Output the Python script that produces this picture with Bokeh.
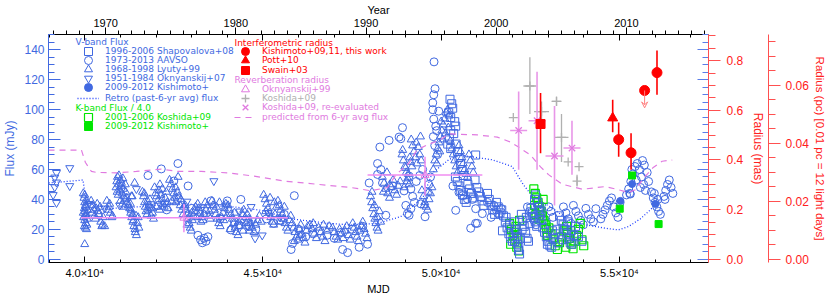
from bokeh.plotting import figure
from bokeh.models import (Range1d, LinearAxis, SingleIntervalTicker, FixedTicker, Legend, LegendItem,
                          ColumnDataSource, Arrow, VeeHead, NumeralTickFormatter, CustomJSTickFormatter, Label)
from bokeh.embed import file_html
from bokeh.resources import INLINE

BLUE = "#4169e1"
GREEN = "#00e600"
RED = "#ff0000"
PINK = "#e07ae0"
GRAY = "#b0b0b0"
FONT = "Liberation Sans"
LFONT = "DejaVu Sans"

# ---------------- data (MJD, flux in mJy) ----------------
shapovalova = [
    (50248, 107), (50324, 101), (50212, 98), (50268, 94.8), (50408, 89), (50268, 86), (50352, 84), (50184, 77),
    (50268, 74), (50296, 104), (50380, 92), (50230, 81),
    (50420, 77), (50460, 72), (50500, 68), (50540, 64), (50580, 60), (50620, 56), (50968, 69.7),
    (50400, 55), (50450, 52), (50500, 49), (50550, 46), (50600, 43), (50650, 40), (50700, 38), (50750, 50),
    (50800, 47), (50850, 44), (50900, 41), (50950, 53), (51000, 48), (51050, 45), (51100, 42), (51150, 39), (51200, 36),
    (51300, 44), (51350, 40), (51400, 36), (51450, 33), (51500, 30), (51550, 38), (51600, 35), (51650, 31),
    (51700, 33), (51750, 29), (51800, 25), (51850, 21), (51900, 17), (51950, 14), (52000, 12), (51720, 19),
    (51820, 28), (51920, 23),
    (52050, 25), (52080, 20), (52110, 15), (52140, 10), (52170, 6), (52200, 3.5), (52060, 12), (52120, 18),
    (52180, 8), (52220, 14),
    (52250, 30), (52290, 26), (52330, 22), (52370, 18), (52410, 14), (52450, 12), (52270, 20), (52390, 28), (52490, 24),
    (52520, 34), (52560, 31), (52600, 28), (52640, 25), (52680, 22), (52720, 33), (52760, 29), (52800, 26),
    (52620, 40), (52650, 43), (52700, 38), (52750, 35), (52800, 32),
    (52850, 21), (52900, 18), (52950, 15), (53000, 12), (53050, 9), (53100, 8), (53150, 14), (53200, 17),
    (53250, 20), (52980, 10), (53120, 19), (53280, 11),
    (53320, 29), (53370, 26), (53420, 23), (53470, 20), (53520, 17), (53570, 14), (53620, 11), (53670, 10),
    (53720, 16), (53770, 22), (53400, 13), (53550, 25), (53650, 19), (53850, 15), (53950, 12),
]

aavso = [
    (41775, 56), (42148, 60.4), (42050, 36), (42300, 33), (42615, 64), (42500, 52.3), (42900, 49), (42600, 40),
    (43000, 34), (43176, 16), (43250, 13), (43300, 11), (43350, 14), (43400, 12), (43456, 15), (43540, 39),
    (44000, 39), (44380, 40), (43800, 27), (44100, 19.6), (44200, 25), (44320, 23), (44600, 22), (44800, 20),
    (45100, 27), (45300, 24), (45500, 26), (45600, 30), (45790, 6.5), (45830, 10.5), (45880, 42.5), (46000, 20),
    (46200, 15), (46400, 17), (46600, 19), (46800, 16), (47000, 14), (47235, 6.5), (47375, 4.4), (47700, 8),
    (47935, 10), (47200, 18), (47500, 20), (47800, 22),
    (47980, 51), (48215, 56.7), (48310, 60), (48215, 64), (48280, 75), (48355, 51), (48540, 79.5), (48868, 80.6),
    (48915, 88), (48820, 81.7), (48635, 49), (48448, 29.4),
    (49100, 55.6), (49008, 36), (48960, 45.7), (49100, 29.4), (49055, 30.5), (49150, 33.8), (49548, 28.4),
    (49150, 47), (49200, 42), (49250, 38), (49430, 37), (49300, 52), (49400, 56), (49480, 60), (49650, 50), (49700, 55),
    (49800, 132), (49828, 114), (49792, 110), (49764, 104.6), (49764, 100), (49932, 99), (49792, 93.7),
    (49848, 89), (49876, 86), (49780, 82), (49820, 76), (49900, 70),
    (50330, 49), (50600, 42.5), (50408, 32.7), (50500, 44.7), (50735, 40.3), (50828, 20.7), (50875, 40),
    (50968, 33.8), (50968, 24), (51155, 30.5), (51015, 24), (51480, 36), (51550, 33), (51620, 30), (51680, 34),
    (51300, 38), (51400, 28),
    (52420, 35), (52480, 32), (52540, 29), (52600, 26), (52660, 23), (52720, 36), (52780, 33), (52840, 30),
    (52900, 27), (52960, 24), (53020, 35), (53080, 32), (53140, 28),
    (53430, 35), (53500, 31), (53570, 27), (53640, 24), (53710, 36), (53780, 32), (53850, 29), (53920, 26),
    (53990, 23), (54060, 34), (54130, 30), (54200, 27), (54270, 25), (54340, 33.8),
    (54480, 27), (54540, 30), (54600, 33), (54660, 36), (54720, 39), (54780, 41), (54840, 35), (54900, 31),
    (54960, 28), (55020, 38),
    (55200, 43), (55260, 47), (55320, 52), (55380, 57), (55440, 62), (55500, 64), (55560, 60), (55620, 55),
    (55680, 50), (55730, 46), (55290, 44), (55350, 60), (55470, 53), (55590, 48), (55308, 43.6),
    (55650, 66), (55700, 63), (55780, 58), (55820, 52),
    (55900, 45), (55950, 41), (56000, 38), (56050, 35), (56100, 32), (56150, 30), (55980, 44), (56080, 40),
    (56250, 42), (56300, 46), (56350, 50), (56400, 53), (56450, 48), (56500, 44), (56280, 40),
]

lyuty = [
    (39960, 44), (39980, 41), (40000, 38), (40020, 36), (39990, 34), (40010, 32), (40040, 30), (39970, 28),
    (40000, 26), (40030, 24), (39990, 22), (40020, 21), (40050, 20), (40000, 43), (40060, 39), (40040, 35),
    (40070, 27), (40000, 10), (40080, 33), (40030, 29), (39960, 31), (40060, 23),
    (40180, 39), (40220, 36), (40250, 33), (40200, 31), (40280, 29), (40320, 34), (40350, 37), (40300, 27),
    (40400, 30), (40450, 25), (40480, 22), (40380, 32), (40520, 28), (40500, 23), (40430, 35), (40560, 22),
    (40620, 39), (40680, 35), (40720, 31), (40760, 28), (40700, 37), (40650, 33), (40780, 29),
    (40880, 48), (40900, 52), (40920, 55), (40950, 50), (40980, 46), (41000, 53), (41020, 49), (41050, 44),
    (41080, 47), (41100, 42), (41120, 40), (40940, 43), (41000, 39), (41060, 37), (41150, 45), (41180, 41),
    (41200, 38), (40960, 56), (41030, 51), (41110, 35), (41220, 36), (40910, 45), (41070, 54), (41140, 50),
    (41310, 42), (41400, 51),
    (41260, 34), (41290, 31), (41320, 28), (41350, 25), (41380, 22), (41410, 20), (41300, 33), (41340, 30),
    (41370, 26), (41420, 18), (41450, 16), (41480, 24), (41500, 28), (41330, 42), (41520, 21), (41280, 37), (41440, 29),
    (41620, 45), (41650, 42), (41680, 38), (41700, 35), (41720, 32), (41750, 30), (41780, 33), (41800, 36),
    (41830, 40), (41860, 29), (41900, 31), (41930, 27), (41670, 44), (41760, 39), (41880, 34),
    (41960, 48), (41990, 44), (42020, 42), (42050, 39), (42080, 46), (42110, 50), (42140, 43), (42170, 40),
    (42200, 37), (42230, 35), (42260, 41), (42290, 45), (42320, 38), (42010, 35), (42100, 33), (42180, 47), (42340, 34),
    (42380, 53), (42420, 50), (42460, 47), (42500, 44), (42530, 41), (42560, 38), (42600, 45), (42640, 42),
    (42680, 36), (42720, 33), (42760, 30), (42450, 39), (42550, 48), (42700, 40), (42620, 55), (42780, 35),
    (42820, 36), (42850, 33), (42880, 30), (42900, 27), (42930, 24), (42960, 21), (42990, 19), (43020, 26),
    (43050, 29), (43080, 32), (43110, 35), (42870, 23), (43000, 31), (43130, 28),
    (43170, 37), (43200, 34), (43240, 31), (43280, 28), (43320, 26), (43360, 30), (43400, 33), (43440, 36),
    (43480, 29), (43520, 27), (43260, 25), (43380, 38), (43500, 32),
    (43570, 39), (43600, 36), (43640, 33), (43680, 30), (43720, 27), (43760, 24), (43800, 22), (43840, 28),
    (43880, 31), (43920, 34), (43960, 37), (43700, 35), (43780, 38), (43900, 26), (43990, 29),
    (44020, 36), (44060, 33), (44100, 30), (44140, 27), (44180, 24), (44220, 21), (44260, 18), (44300, 16),
    (44340, 22), (44380, 26), (44420, 30), (44460, 33), (44500, 28), (44530, 24), (44080, 20), (44200, 31),
    (44320, 25), (44440, 19),
    (44560, 30), (44600, 27), (44650, 24), (44700, 21), (44750, 18), (44800, 23), (44850, 26), (44900, 29),
    (44950, 25), (44620, 19),
    (45020, 43), (45060, 40), (45100, 37), (45140, 34), (45180, 31), (45220, 28), (45260, 25), (45300, 23),
    (45340, 30), (45380, 35), (45080, 32), (45200, 41), (45320, 38),
    (45420, 39), (45460, 36), (45500, 33), (45540, 30), (45580, 27), (45620, 24), (45660, 21), (45700, 19),
    (45740, 26), (45780, 29), (45480, 25), (45600, 35),
    (45820, 24), (45860, 21), (45900, 18), (45940, 15), (45980, 13), (46020, 20), (46060, 23), (46100, 17),
    (46140, 14), (46180, 11), (46220, 19), (46260, 22), (45880, 12), (46040, 16),
    (46320, 23), (46380, 20), (46440, 17), (46500, 14), (46560, 21), (46620, 18), (46680, 15), (46740, 12),
    (46800, 19), (46860, 22), (46410, 24), (46700, 23),
    (46950, 21), (47000, 18), (47050, 15), (47100, 13), (47150, 20), (47200, 17), (47250, 14), (47300, 19),
    (47350, 22), (47400, 16), (47450, 13),
    (47520, 24), (47560, 21), (47600, 18), (47640, 15), (47680, 12), (47720, 19), (47760, 22), (47800, 25),
    (47840, 20), (47880, 17), (47920, 14),
    (48020, 42), (48050, 38), (48080, 34), (48110, 30), (48140, 27), (48170, 24), (48200, 21), (48230, 19),
    (48060, 45), (48130, 36), (48210, 28), (48270, 32), (48300, 25),
    (48350, 55), (48400, 51), (48450, 47), (48500, 44), (48550, 41), (48600, 48), (48650, 53), (48380, 45),
    (48480, 58), (48560, 50), (48700, 46), (48750, 43), (48800, 49), (48850, 52),
    (48900, 70), (48940, 66), (48980, 62), (49020, 58), (49060, 54), (49100, 50), (49140, 65), (48920, 73),
    (49000, 61), (49080, 57), (49120, 68), (48960, 48), (49040, 52),
    (49160, 80), (49200, 76), (49240, 72), (49280, 68), (49320, 64), (49360, 75), (49400, 70), (49440, 66),
    (49180, 62), (49300, 78), (49420, 82),
    (49460, 46), (49500, 42), (49540, 38), (49580, 35), (49620, 33), (49660, 40), (49700, 44), (49740, 48),
    (49520, 36), (49640, 45),
    (49820, 66), (49860, 70), (49900, 74), (49940, 78), (49980, 82), (50020, 86), (50060, 90), (50100, 94),
    (50140, 98), (50180, 100), (50220, 96), (49880, 64), (49960, 72), (50040, 80), (50120, 84), (50200, 88),
    (50000, 92), (49780, 60),
    (50260, 79), (50300, 74), (50340, 70), (50380, 66), (50420, 62), (50460, 58), (50500, 76), (50540, 72),
    (50580, 68), (50620, 64), (50660, 60), (50700, 57), (50740, 55), (50780, 70), (50820, 66), (50860, 62), (50900, 58),
]

oknyanskij07 = [
    (39208, 57.8), (39160, 54.7), (39208, 51.4), (39160, 48.2), (39115, 43), (39208, 37.7), (39580, 61), (39580, 49),
    (40120, 37), (40560, 34), (40980, 36), (41450, 47), (41800, 35), (42250, 37), (42867, 38.6), (43250, 33),
    (43623, 52.3), (43950, 36), (44350, 32), (44668, 35), (44580, 22), (44780, 14), (44980, 16), (44720, 26),
    (45150, 31), (45480, 28),
]

kish_v = [(55028, 39), (55355, 50.3), (56010, 37)]

koshida_k = [
    (51920, 24), (51970, 20), (52020, 16), (52070, 12), (52120, 8), (52170, 5.5), (51950, 10), (52050, 18),
    (52100, 22), (52150, 14), (52200, 26),
    (52600, 47), (52640, 44), (52680, 41), (52720, 38), (52760, 35), (52800, 32), (52840, 29), (52880, 26),
    (52920, 23), (52960, 20), (52980, 16), (52660, 30), (52740, 27), (52860, 40), (52620, 36),
    (53020, 21), (53080, 17), (53140, 13), (53200, 9), (53260, 6.5), (53320, 11), (53380, 15), (53440, 19), (53500, 8),
    (53550, 18), (53600, 14), (53650, 10), (53700, 7), (53750, 12), (53800, 16), (53850, 20), (53900, 24),
    (53950, 13), (54000, 9), (53520, 22),
]

kish_k = [(55010, 33.8), (55355, 56), (56100, 23.5)]

retro_mjd = [38990, 39500, 39950, 40050, 40188, 40748, 41500, 42000, 42708, 43500, 44192, 44948, 45788,
             46824, 47468, 48224, 48868, 49232, 49500, 49755, 50212, 50492, 51000, 51435, 51995, 52300,
             52500, 52732, 53208, 53572, 54048, 54608, 54972, 55252, 55588, 55868, 56148]
retro_flux = [51, 52, 53, 38, 37, 34, 35, 36, 37, 36, 35, 32.7, 27, 24, 23, 24, 28.5, 36, 42, 57.8, 66.5,
              69.7, 68, 66.5, 62, 50, 44, 40, 32.7, 26, 23, 20.7, 19.6, 21.8, 27, 33, 40]

# ---------------- radius data (mas) ----------------
pred_mjd = [38984, 39908, 40020, 40188, 40328, 40888, 41448, 42148, 42615, 43268, 44015, 44752, 45592,
            46535, 47468, 48028, 48495, 48728, 49092, 49316, 49596, 49960, 50212, 51015, 51575, 51948,
            52172, 52508, 52788, 53012, 53404, 53964, 54608, 55028, 55252, 55450, 55700, 55950, 56200, 56484]
pred_r = [0.44, 0.44, 0.39, 0.354, 0.35, 0.348, 0.354, 0.363, 0.354, 0.354, 0.348, 0.335, 0.315,
          0.302, 0.289, 0.276, 0.289, 0.34, 0.387, 0.44, 0.46, 0.48, 0.505, 0.501, 0.492, 0.472,
          0.452, 0.42, 0.372, 0.341, 0.302, 0.282, 0.293, 0.278, 0.269, 0.28, 0.33, 0.37, 0.395, 0.40]

okn99_mjd = [42783, 49548]
okn99_t0 = [39900, 47935]
okn99_t1 = [45700, 51155]
okn99_r = [0.167, 0.339]
okn99_lo = [0.109, 0.256]
okn99_hi = [0.223, 0.413]

kos_mjd = [52024, 52489, 52816, 53236, 53376, 53563, 53868, 53812]
kos_t0 = [52024, 52307, 52606, 53096, 53180, 53563, 53868, 53812]
kos_t1 = [52024, 52671, 53026, 53376, 53572, 53563, 53868, 53812]
kos_r = [0.571, 0.698, 0.595, 0.636, 0.491, 0.392, 0.373, 0.315]
kos_lo = [0.571, 0.585, 0.554, 0.617, 0.392, 0.392, 0.373, 0.293]
kos_hi = [0.571, 0.814, 0.636, 0.656, 0.585, 0.392, 0.373, 0.341]

kre_mjd = [52174, 52690, 53180, 53670]
kre_t0 = [51936, 52452, 52928, 53432]
kre_t1 = [52412, 52928, 53432, 53908]
kre_r = [0.519, 0.558, 0.416, 0.448]
kre_lo = [0.361, 0.361, 0.217, 0.341]
kre_hi = [0.676, 0.755, 0.617, 0.558]

kis_mjd = [54980, 55327, 56055]
kis_r = [0.482, 0.429, 0.752]
kis_lo = [0.413, 0.361, 0.663]
kis_hi = [0.551, 0.508, 0.841]
kis_lim_mjd = [55708]
kis_lim_r = [0.680]
kis_lim_to = [0.610]

pott_mjd = [54812]
pott_r = [0.569]
pott_lo = [0.512]
pott_hi = [0.643]

swain_mjd = [52788]
swain_r = [0.545]
swain_lo = [0.427]
swain_hi = [0.670]

MAS_TO_PC = 0.0855
MJD_TICKS = [40000, 45000, 50000, 55000]
MJD_LABELS = {40000: "4.0×10⁴", 45000: "4.5×10⁴", 50000: "5.0×10⁴", 55000: "5.5×10⁴"}

# ---------------- figure ----------------
W, H = 830, 297
ML, MR, MT, MB = 47, 122, 32, 32
FW, FH = W - ML - MR, H - MT - MB

X0, X1 = 38984, 57500
M0, M1 = -0.013, 0.9055

p = figure(width=W, height=H, x_range=Range1d(X0, X1), y_range=Range1d(-2.2, 150.3),
           output_backend="svg", toolbar_location=None, x_axis_location=None, y_axis_location=None,
           min_border_left=ML, min_border_right=MR, min_border_top=MT, min_border_bottom=MB)
p.outline_line_color = None
p.xgrid.visible = False
p.ygrid.visible = False
p.extra_x_ranges = {"year": Range1d(1970 + (X0 - 40587) / 365.25, 1970 + (X1 - 40587) / 365.25)}
p.extra_y_ranges = {"mas": Range1d(M0, M1), "pc": Range1d(M0 * MAS_TO_PC, M1 * MAS_TO_PC)}


def style_axis(ax, color, size="12px"):
    ax.axis_line_color = color
    ax.major_tick_line_color = color
    ax.minor_tick_line_color = color
    ax.major_label_text_color = color
    ax.major_label_text_font = FONT
    ax.major_label_text_font_size = size
    ax.major_label_text_line_height = 1.0
    ax.axis_label_text_color = color
    ax.axis_label_text_font = FONT
    ax.axis_label_text_font_style = "normal"
    ax.axis_label_text_font_size = size
    ax.axis_label_text_line_height = 1.0


ax_l = LinearAxis(ticker=SingleIntervalTicker(interval=20, num_minor_ticks=4), axis_label="Flux (mJy)")
style_axis(ax_l, BLUE)
ax_l.major_tick_in, ax_l.major_tick_out, ax_l.minor_tick_in, ax_l.minor_tick_out = 12, 0, 6, 0
ax_l.major_label_standoff = 4
ax_l.axis_label_standoff = 4
p.add_layout(ax_l, "left")

ax_b = LinearAxis(ticker=FixedTicker(ticks=MJD_TICKS, minor_ticks=list(range(39000, 58000, 1000))),
                  major_label_overrides=MJD_LABELS, axis_label="MJD")
style_axis(ax_b, "black", "11px")
ax_b.major_tick_in, ax_b.major_tick_out, ax_b.minor_tick_in, ax_b.minor_tick_out = 6, 0, 3, 0
ax_b.major_label_standoff = 4
ax_b.axis_label_standoff = 1
p.add_layout(ax_b, "below")

ax_tm = LinearAxis(ticker=FixedTicker(ticks=MJD_TICKS, minor_ticks=list(range(39000, 58000, 1000))),
                   formatter=CustomJSTickFormatter(code="return ''"))
style_axis(ax_tm, "black", "0px")
ax_tm.axis_line_color = None
ax_tm.major_tick_in, ax_tm.major_tick_out, ax_tm.minor_tick_in, ax_tm.minor_tick_out = 6, 0, 3, 0
ax_tm.major_label_standoff = 0
p.add_layout(ax_tm, "above")

ax_t = LinearAxis(x_range_name="year", ticker=SingleIntervalTicker(interval=10, num_minor_ticks=10),
                  axis_label="Year")
style_axis(ax_t, "black", "11px")
ax_t.major_tick_in, ax_t.major_tick_out, ax_t.minor_tick_in, ax_t.minor_tick_out = 0, 7, 0, 4
ax_t.major_label_standoff = 1
ax_t.axis_label_standoff = 0
p.add_layout(ax_t, "above")

ax_rm = LinearAxis(ticker=SingleIntervalTicker(interval=20, num_minor_ticks=4),
                   formatter=CustomJSTickFormatter(code="return ''"))
style_axis(ax_rm, "#5a7de8", "0px")
ax_rm.axis_line_color = None
ax_rm.major_tick_in, ax_rm.major_tick_out, ax_rm.minor_tick_in, ax_rm.minor_tick_out = 11, 0, 6, 0
ax_rm.major_label_standoff = 0
p.add_layout(ax_rm, "right")

ax_mas = LinearAxis(y_range_name="mas", ticker=SingleIntervalTicker(interval=0.2, num_minor_ticks=4),
                    formatter=NumeralTickFormatter(format="0.0"), axis_label="Radius (mas)")
style_axis(ax_mas, "#ff2020")
ax_mas.axis_line_color = "#ff5050"
ax_mas.major_tick_line_color = "#ff5050"
ax_mas.minor_tick_line_color = "#ff5050"
ax_mas.major_tick_in, ax_mas.major_tick_out, ax_mas.minor_tick_in, ax_mas.minor_tick_out = 0, 12, 0, 7
ax_mas.major_label_standoff = 6
ax_mas.axis_label_standoff = 5
p.add_layout(ax_mas, "right")

ax_pc = LinearAxis(y_range_name="pc", ticker=SingleIntervalTicker(interval=0.02, num_minor_ticks=4),
                   formatter=NumeralTickFormatter(format="0.00"),
                   axis_label="Radius (pc) [0.01 pc = 12 light days]")
style_axis(ax_pc, "#ff2020")
ax_pc.axis_line_color = "#ff5050"
ax_pc.major_tick_line_color = "#ff5050"
ax_pc.minor_tick_line_color = "#ff5050"
ax_pc.axis_label_text_font_size = "11.5px"
ax_pc.major_tick_in, ax_pc.major_tick_out, ax_pc.minor_tick_in, ax_pc.minor_tick_out = 0, 12, 0, 7
ax_pc.major_label_standoff = 5
ax_pc.axis_label_standoff = 2
p.add_layout(ax_pc, "right")


def cols(pts):
    return [a for a, b in pts], [b for a, b in pts]


# ---------------- flux glyphs ----------------
r_retro = p.line(retro_mjd, retro_flux, line_color="#1c3cff", line_dash="1 2", line_width=1.3)

x, y = cols(lyuty)
r_tri = p.scatter(x, y, marker="triangle", size=8, fill_color=None, line_color=BLUE, line_width=1)
x, y = cols(oknyanskij07)
r_itri = p.scatter(x, y, marker="inverted_triangle", size=8, fill_color=None, line_color=BLUE, line_width=1)
x, y = cols(aavso)
r_circ = p.scatter(x, y, marker="circle", size=8, fill_color=None, line_color=BLUE, line_width=1)
x, y = cols(koshida_k)
r_gsq = p.scatter(x, y, marker="square", size=8, fill_color=None, line_color=GREEN, line_width=1.2)
x, y = cols(shapovalova)
r_sq = p.scatter(x, y, marker="square", size=8, fill_color=None, line_color=BLUE, line_width=1)
x, y = cols(kish_v)
r_kv = p.scatter(x, y, marker="circle", size=7, fill_color=BLUE, line_color=BLUE)
x, y = cols(kish_k)
r_kk = p.scatter(x, y, marker="square", size=7, fill_color=GREEN, line_color=GREEN)

# ---------------- radius glyphs ----------------
okn_src = ColumnDataSource(dict(x=okn99_mjd, t0=okn99_t0, t1=okn99_t1, r=okn99_r, lo=okn99_lo, hi=okn99_hi))
p.segment("t0", "r", "t1", "r", source=okn_src, y_range_name="mas", line_color="#f08cf0", line_width=1.5)
p.segment("x", "lo", "x", "hi", source=okn_src, y_range_name="mas", line_color="#f08cf0", line_width=1.5)
r_okn = p.scatter("x", "r", source=okn_src, y_range_name="mas", marker="triangle", size=8,
                  fill_color=None, line_color=PINK, line_width=1)

r_pred = p.line(pred_mjd, pred_r, y_range_name="mas", line_color=PINK, line_dash="6 5", line_width=1.2)

kos_src = ColumnDataSource(dict(x=kos_mjd, t0=kos_t0, t1=kos_t1, r=kos_r, lo=kos_lo, hi=kos_hi))
p.segment("t0", "r", "t1", "r", source=kos_src, y_range_name="mas", line_color=GRAY, line_width=1.3)
p.segment("x", "lo", "x", "hi", source=kos_src, y_range_name="mas", line_color=GRAY, line_width=1.3)
r_kos = p.scatter("x", "r", source=kos_src, y_range_name="mas", marker="cross", size=9,
                  line_color=GRAY, line_width=1.3)

kre_src = ColumnDataSource(dict(x=kre_mjd, t0=kre_t0, t1=kre_t1, r=kre_r, lo=kre_lo, hi=kre_hi))
p.segment("t0", "r", "t1", "r", source=kre_src, y_range_name="mas", line_color="#e896e8", line_width=1.6)
p.segment("x", "lo", "x", "hi", source=kre_src, y_range_name="mas", line_color="#e896e8", line_width=1.6)
r_kre = p.scatter("x", "r", source=kre_src, y_range_name="mas", marker="x", size=9,
                  line_color=PINK, line_width=1.3)

kis_src = ColumnDataSource(dict(x=kis_mjd, r=kis_r, lo=kis_lo, hi=kis_hi))
p.segment("x", "lo", "x", "hi", source=kis_src, y_range_name="mas", line_color=RED, line_width=1.6)
r_kis = p.scatter("x", "r", source=kis_src, y_range_name="mas", marker="circle", size=10,
                  fill_color=RED, line_color=RED)
lim_src = ColumnDataSource(dict(x=kis_lim_mjd, r=kis_lim_r, to=kis_lim_to))
p.add_layout(Arrow(end=VeeHead(size=6, line_color="#ff8080", fill_color=None, line_width=1),
                   x_start="x", y_start="r", x_end="x", y_end="to", source=lim_src, y_range_name="mas",
                   line_color="#ff8080", line_width=1))
p.scatter("x", "r", source=lim_src, y_range_name="mas", marker="circle", size=10, fill_color=RED, line_color=RED)

pott_src = ColumnDataSource(dict(x=pott_mjd, r=pott_r, lo=pott_lo, hi=pott_hi))
p.segment("x", "lo", "x", "hi", source=pott_src, y_range_name="mas", line_color=RED, line_width=1.6)
r_pott = p.scatter("x", "r", source=pott_src, y_range_name="mas", marker="triangle", size=10,
                   fill_color=RED, line_color=RED)

swain_src = ColumnDataSource(dict(x=swain_mjd, r=swain_r, lo=swain_lo, hi=swain_hi))
p.segment("x", "lo", "x", "hi", source=swain_src, y_range_name="mas", line_color=RED, line_width=1.6)
r_swain = p.scatter("x", "r", source=swain_src, y_range_name="mas", marker="square", size=9,
                    fill_color=RED, line_color=RED)


# ---------------- legends (one row each; positions in screen px) ----------------
def row(renderer, label, left, yc, color):
    # left: glyph-box left edge, yc: row centre, both measured in page pixels
    lg = Legend(items=[LegendItem(label=label, renderers=[renderer])],
                location=(left - ML, (H - MB) - (yc + 10)),
                label_text_font=LFONT, label_text_font_size="9px", label_text_color=color,
                label_text_line_height=1.0,
                glyph_width=22, glyph_height=20, label_height=20, label_standoff=6,
                spacing=0, padding=0, margin=0, border_line_color=None, background_fill_alpha=0)
    p.add_layout(lg)


def head(text, left, yc, color):
    p.add_layout(Label(x=left - ML, y=(H - MB) - yc, x_units="screen", y_units="screen", text=text,
                       text_align="left", text_baseline="middle", text_font=LFONT, text_line_height=1.0,
                       text_font_size="9px", text_color=color))


head("V-band Flux", 74, 44.5, BLUE)
row(r_sq, "1996-2006 Shapovalova+08", 76, 53.5, BLUE)
row(r_circ, "1973-2013 AAVSO", 76, 62.5, BLUE)
row(r_tri, "1968-1998 Lyuty+99", 76, 71.7, BLUE)
row(r_itri, "1951-1984 Oknyanskij+07", 76, 81, BLUE)
row(r_kv, "2009-2012 Kishimoto+", 76, 90, BLUE)
row(r_retro, "Retro (past-6-yr avg) flux", 76, 101, BLUE)
head("K-band Flux / 4.0", 74, 110, GREEN)
row(r_gsq, "2001-2006 Koshida+09", 76, 120, GREEN)
row(r_kk, "2009-2012 Kishimoto+", 76, 128.5, GREEN)

head("Interferometric radius", 233, 45, RED)
row(r_kis, "Kishimoto+09,11, this work", 233, 54.3, RED)
row(r_pott, "Pott+10", 233, 63.3, RED)
row(r_swain, "Swain+03", 233, 72.7, RED)
head("Reverberation radius", 233, 82.3, PINK)
row(r_okn, "Oknyanskij+99", 233, 91.7, PINK)
row(r_kos, "Koshida+09", 233, 101, GRAY)
row(r_kre, "Koshida+09, re-evaluated", 233, 110.3, PINK)
row(r_pred, "predicted from 6-yr avg flux", 233, 120, PINK)

open("out.html", "w").write(file_html(p, INLINE))
